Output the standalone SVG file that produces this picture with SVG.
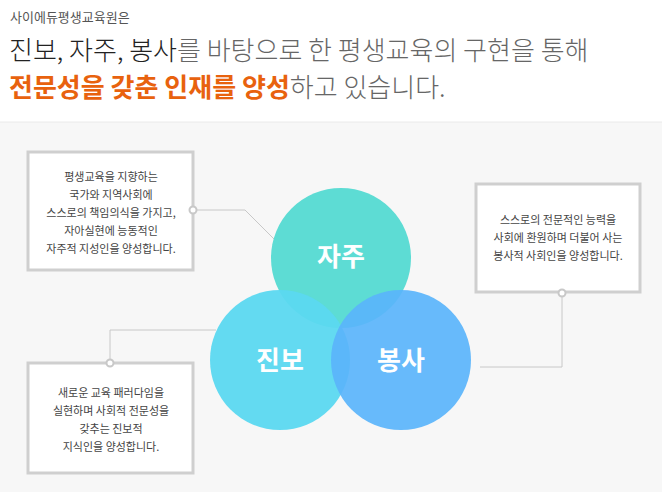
<svg xmlns="http://www.w3.org/2000/svg" width="662" height="492" viewBox="0 0 662 492">
<style>
.box{fill:#fff;stroke:#cfcfcf;stroke-width:3}
.t{font-family:"Noto Sans CJK KR","Noto Sans",sans-serif;font-size:11px;fill:#444;text-anchor:middle}
.c{font-family:"Noto Sans CJK KR",sans-serif;font-size:26px;font-weight:bold;fill:#fff;text-anchor:middle}
.ln{fill:none;stroke:#c8c8c8;stroke-width:1}
.dot{fill:#fff;stroke:#c8c8c8;stroke-width:2}
</style>
<rect width="662" height="492" fill="#fff"/>
<rect y="122" width="662" height="370" fill="#f7f7f7"/>
<line x1="0" y1="122" x2="662" y2="122" stroke="#eaeaea"/>
<text x="10" y="22" font-family="Noto Sans CJK KR,sans-serif" font-size="13" fill="#555">사이에듀평생교육원은</text>
<text x="9" y="60" font-family="Noto Sans CJK KR,sans-serif" font-size="26" font-weight="300" fill="#666"><tspan fill="#222">진보, 자주, 봉사</tspan>를 바탕으로 한 평생교육의 구현을 통해</text>
<text x="9" y="97" font-family="Noto Sans CJK KR,sans-serif" font-size="26" font-weight="300" fill="#666"><tspan fill="#e8620e" font-weight="bold">전문성을 갖춘 인재를 양성</tspan>하고 있습니다.</text>
<g id="connectors">
<polyline class="ln" points="193,210 245,210 275,240"/>
<polyline class="ln" points="110,363 110,330 216,330"/>
<polyline class="ln" points="562,293 562,367 480,367"/>
</g>
<g id="circles">
<circle cx="341" cy="258" r="70" fill="#5ddcd4"/>
<circle cx="280" cy="360" r="70" fill="#5bd8f0" opacity="0.95"/>
<circle cx="401" cy="360" r="70" fill="#5ab4fb" opacity="0.92"/>
</g>
<g id="jaju"><text class="c" x="341" y="266">자주</text></g>
<g id="jinbo"><text class="c" x="280" y="370">진보</text></g>
<g id="bongsa"><text class="c" x="401" y="370">봉사</text></g>
<g id="box1">
<rect class="box" x="28" y="152" width="165" height="118"/>
<text class="t" x="111" y="181">평생교육을 지향하는</text>
<text class="t" x="111" y="199">국가와 지역사회에</text>
<text class="t" x="111" y="217">스스로의 책임의식을 가지고,</text>
<text class="t" x="111" y="235">자아실현에 능동적인</text>
<text class="t" x="111" y="253">자주적 지성인을 양성합니다.</text>
<circle class="dot" cx="193" cy="210" r="3.5"/>
</g>
<g id="box2">
<rect class="box" x="28" y="363" width="165" height="110"/>
<text class="t" x="111" y="397">새로운 교육 패러다임을</text>
<text class="t" x="111" y="415">실현하며 사회적 전문성을</text>
<text class="t" x="111" y="433">갖추는 진보적</text>
<text class="t" x="111" y="451">지식인을 양성합니다.</text>
<circle class="dot" cx="110" cy="363" r="3.5"/>
</g>
<g id="box3">
<rect class="box" x="476" y="184" width="164" height="108"/>
<text class="t" x="558" y="224">스스로의 전문적인 능력을</text>
<text class="t" x="558" y="242">사회에 환원하며 더불어 사는</text>
<text class="t" x="558" y="260">봉사적 사회인을 양성합니다.</text>
<circle class="dot" cx="562" cy="293" r="3.5"/>
</g>
</svg>
